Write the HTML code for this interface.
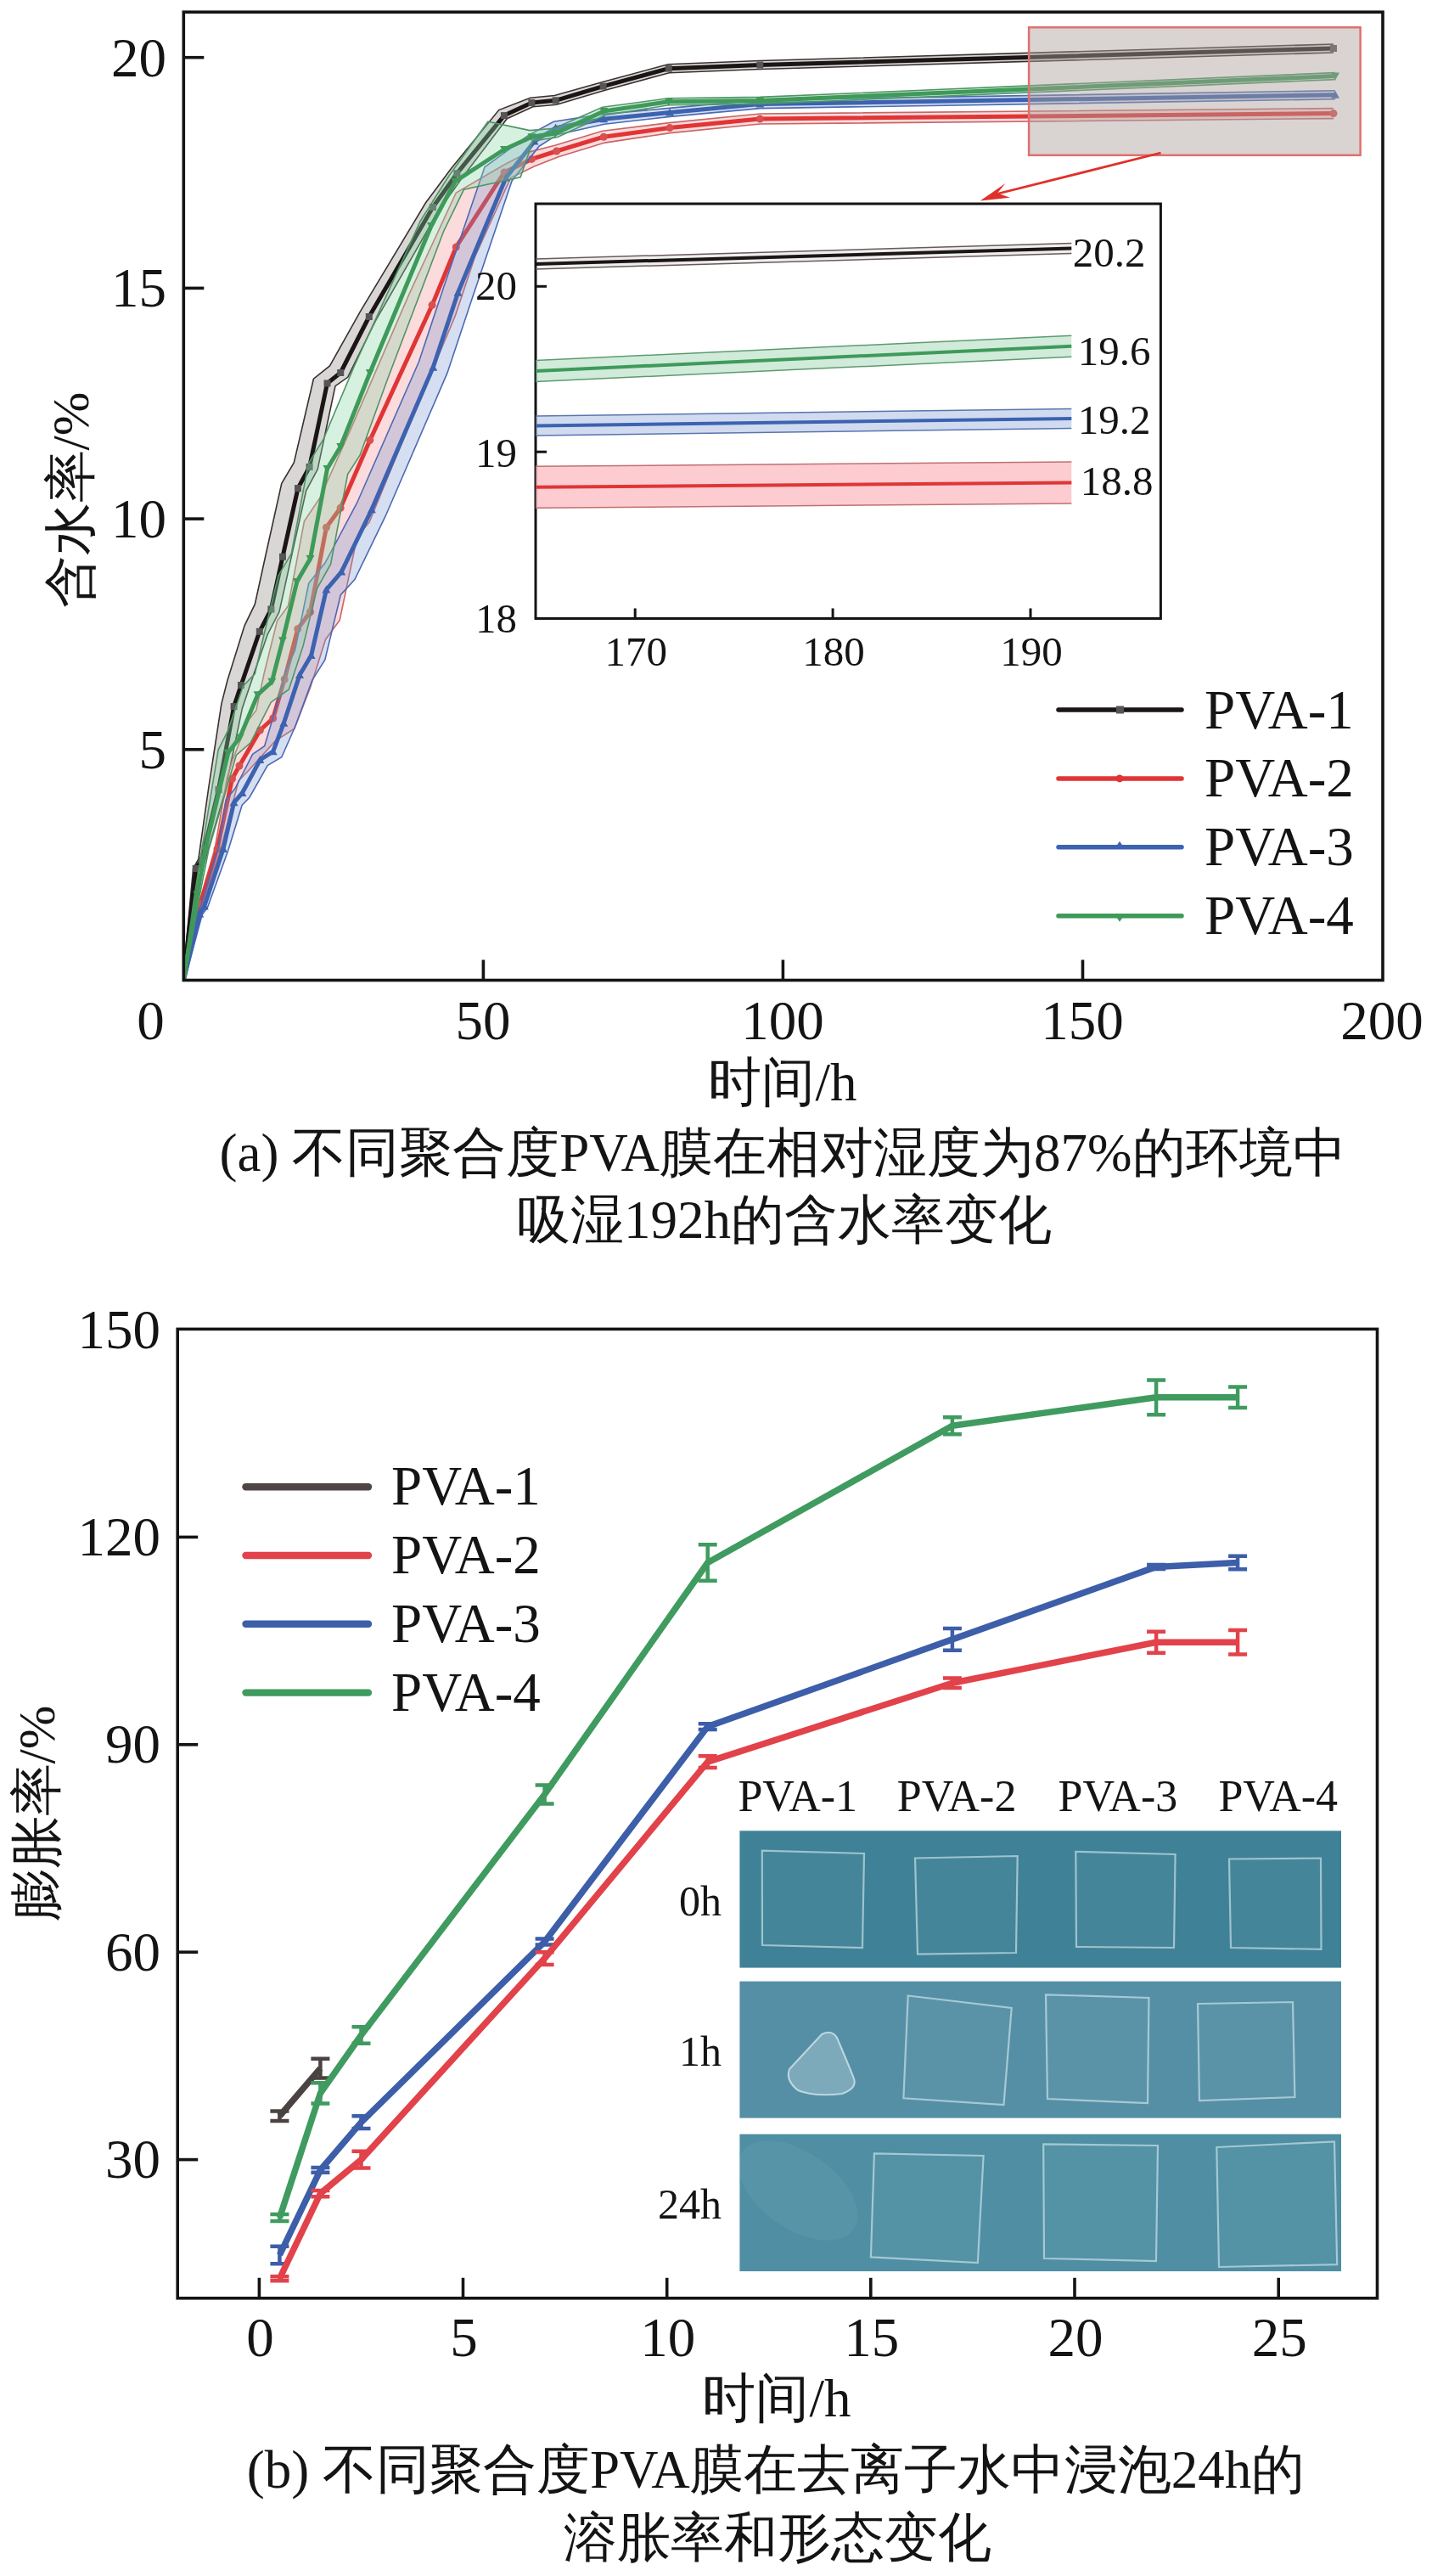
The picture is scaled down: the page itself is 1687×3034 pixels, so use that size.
<!DOCTYPE html><html><head><meta charset="utf-8"><style>html,body{margin:0;padding:0;background:#fff;overflow:hidden}svg{display:block}</style></head><body><svg width="1687" height="3034" viewBox="0 0 1687 3034" font-family="'Liberation Serif', serif">
<rect width="1687" height="3034" fill="#fff"/>
<defs><clipPath id="c1"><rect x="216.3" y="14.2" width="1412.7" height="1140.3"/></clipPath></defs>
<g clip-path="url(#c1)">
<polygon points="215.3,1154.4 227.7,1022.6 233.8,1011.9 245.8,927.5 260.9,828.9 267.9,801.5 288.1,736.8 300.3,711.7 313.5,651.5 331.8,569.4 346.3,544.9 369.4,446.2 388.5,431.0 424.3,367.2 501.5,238.8 531.3,198.7 587.7,129.6 624.7,115.2 653.3,112.5 709.2,96.8 787.1,75.7 895.1,71.5 1570.9,52.0 1571.1,62.0 895.5,81.5 788.5,85.7 712.0,106.4 655.7,123.2 627.8,125.8 597.3,139.7 544.7,209.1 516.8,248.2 442.7,377.4 409.7,444.3 395.0,454.6 374.2,552.7 360.6,578.0 342.8,658.0 329.0,720.6 315.1,747.5 293.5,810.2 285.4,834.2 265.3,931.6 241.4,1014.1 233.7,1023.4 217.3,1154.6" fill="rgba(120,110,105,0.28)" stroke="none"/>
<polyline points="215.3,1154.4 227.7,1022.6 233.8,1011.9 245.8,927.5 260.9,828.9 267.9,801.5 288.1,736.8 300.3,711.7 313.5,651.5 331.8,569.4 346.3,544.9 369.4,446.2 388.5,431.0 424.3,367.2 501.5,238.8 531.3,198.7 587.7,129.6 624.7,115.2 653.3,112.5 709.2,96.8 787.1,75.7 895.1,71.5 1570.9,52.0" fill="none" stroke="#3a3030" stroke-width="1.6"/>
<polyline points="217.3,1154.6 233.7,1023.4 241.4,1014.1 265.3,931.6 285.4,834.2 293.5,810.2 315.1,747.5 329.0,720.6 342.8,658.0 360.6,578.0 374.2,552.7 395.0,454.6 409.7,444.3 442.7,377.4 516.8,248.2 544.7,209.1 597.3,139.7 627.8,125.8 655.7,123.2 712.0,106.4 788.5,85.7 895.5,81.5 1571.1,62.0" fill="none" stroke="#3a3030" stroke-width="1.6"/>
<polyline points="216.3,1154.5 230.7,1023.0 237.6,1013.0 257.5,930.0 275.6,832.1 284.0,807.0 305.8,743.8 319.4,717.6 333.0,655.8 351.0,575.1 364.6,550.0 385.5,451.5 401.2,439.0 434.8,373.0 510.0,244.0 538.4,204.2 593.9,136.1 626.4,121.0 654.6,118.3 710.6,101.6 787.8,80.7 895.3,76.5 1571.0,57.0" fill="none" stroke="#1b1515" stroke-width="5" stroke-linejoin="round"/>
<rect x="226.7" y="1019.0" width="8" height="8" fill="#555"/>
<rect x="233.6" y="1009.0" width="8" height="8" fill="#555"/>
<rect x="253.5" y="926.0" width="8" height="8" fill="#555"/>
<rect x="271.6" y="828.1" width="8" height="8" fill="#555"/>
<rect x="280.0" y="803.0" width="8" height="8" fill="#555"/>
<rect x="301.8" y="739.8" width="8" height="8" fill="#555"/>
<rect x="315.4" y="713.6" width="8" height="8" fill="#555"/>
<rect x="329.0" y="651.8" width="8" height="8" fill="#555"/>
<rect x="347.0" y="571.1" width="8" height="8" fill="#555"/>
<rect x="360.6" y="546.0" width="8" height="8" fill="#555"/>
<rect x="381.5" y="447.5" width="8" height="8" fill="#555"/>
<rect x="397.2" y="435.0" width="8" height="8" fill="#555"/>
<rect x="430.8" y="369.0" width="8" height="8" fill="#555"/>
<rect x="506.0" y="240.0" width="8" height="8" fill="#555"/>
<rect x="534.4" y="200.2" width="8" height="8" fill="#555"/>
<rect x="589.9" y="132.1" width="8" height="8" fill="#555"/>
<rect x="622.4" y="117.0" width="8" height="8" fill="#555"/>
<rect x="650.6" y="114.3" width="8" height="8" fill="#555"/>
<rect x="706.6" y="97.6" width="8" height="8" fill="#555"/>
<rect x="783.8" y="76.7" width="8" height="8" fill="#555"/>
<rect x="891.3" y="72.5" width="8" height="8" fill="#555"/>
<rect x="1567.0" y="53.0" width="8" height="8" fill="#555"/>
<polygon points="215.3,1154.3 234.1,1064.5 253.1,999.3 267.7,915.8 273.3,897.0 291.7,849.6 301.9,836.5 311.1,793.3 326.5,731.4 339.5,713.5 358.5,613.7 377.0,586.1 412.1,507.9 481.7,347.1 537.3,227.0 594.0,194.0 623.0,179.1 653.6,171.3 709.8,154.3 788.3,144.6 895.2,134.0 1570.9,127.6 1571.1,139.6 895.4,146.0 789.7,156.6 712.6,168.1 657.8,184.7 629.8,195.7 601.6,209.5 559.3,302.9 536.5,371.5 468.6,533.4 435.1,615.2 420.9,631.8 400.2,730.5 383.5,753.2 366.0,808.5 346.9,858.1 324.3,872.7 292.4,908.0 281.2,919.4 259.9,1001.0 237.9,1065.5 217.3,1154.7" fill="rgba(245,150,155,0.34)" stroke="none"/>
<polyline points="215.3,1154.3 234.1,1064.5 253.1,999.3 267.7,915.8 273.3,897.0 291.7,849.6 301.9,836.5 311.1,793.3 326.5,731.4 339.5,713.5 358.5,613.7 377.0,586.1 412.1,507.9 481.7,347.1 537.3,227.0 594.0,194.0 623.0,179.1 653.6,171.3 709.8,154.3 788.3,144.6 895.2,134.0 1570.9,127.6" fill="none" stroke="#c86565" stroke-width="1.6"/>
<polyline points="217.3,1154.7 237.9,1065.5 259.9,1001.0 281.2,919.4 292.4,908.0 324.3,872.7 346.9,858.1 366.0,808.5 383.5,753.2 400.2,730.5 420.9,631.8 435.1,615.2 468.6,533.4 536.5,371.5 559.3,302.9 601.6,209.5 629.8,195.7 657.8,184.7 712.6,168.1 789.7,156.6 895.4,146.0 1571.1,139.6" fill="none" stroke="#c86565" stroke-width="1.6"/>
<polyline points="216.3,1154.5 236.0,1065.0 256.0,1000.0 273.5,917.3 282.0,902.0 306.4,860.0 321.7,846.0 335.2,800.0 350.8,740.7 365.5,720.8 384.4,621.2 401.1,598.2 435.8,518.6 509.1,359.3 537.3,291.0 594.0,203.0 626.4,187.4 655.7,178.0 711.2,161.2 789.0,150.6 895.3,140.0 1571.0,133.6" fill="none" stroke="#e03535" stroke-width="5" stroke-linejoin="round"/>
<circle cx="236.0" cy="1065.0" r="4.5" fill="#d85050"/>
<circle cx="256.0" cy="1000.0" r="4.5" fill="#d85050"/>
<circle cx="273.5" cy="917.3" r="4.5" fill="#d85050"/>
<circle cx="282.0" cy="902.0" r="4.5" fill="#d85050"/>
<circle cx="306.4" cy="860.0" r="4.5" fill="#d85050"/>
<circle cx="321.7" cy="846.0" r="4.5" fill="#d85050"/>
<circle cx="335.2" cy="800.0" r="4.5" fill="#d85050"/>
<circle cx="350.8" cy="740.7" r="4.5" fill="#d85050"/>
<circle cx="365.5" cy="720.8" r="4.5" fill="#d85050"/>
<circle cx="384.4" cy="621.2" r="4.5" fill="#d85050"/>
<circle cx="401.1" cy="598.2" r="4.5" fill="#d85050"/>
<circle cx="435.8" cy="518.6" r="4.5" fill="#d85050"/>
<circle cx="509.1" cy="359.3" r="4.5" fill="#d85050"/>
<circle cx="537.3" cy="291.0" r="4.5" fill="#d85050"/>
<circle cx="594.0" cy="203.0" r="4.5" fill="#d85050"/>
<circle cx="626.4" cy="187.4" r="4.5" fill="#d85050"/>
<circle cx="655.7" cy="178.0" r="4.5" fill="#d85050"/>
<circle cx="711.2" cy="161.2" r="4.5" fill="#d85050"/>
<circle cx="789.0" cy="150.6" r="4.5" fill="#d85050"/>
<circle cx="895.3" cy="140.0" r="4.5" fill="#d85050"/>
<circle cx="1571.0" cy="133.6" r="4.5" fill="#d85050"/>
<polygon points="215.3,1154.3 232.4,1075.8 236.9,1066.0 257.2,998.4 266.1,942.1 276.9,928.8 297.6,888.4 311.6,878.7 321.1,847.1 337.2,788.7 347.5,766.1 363.7,687.1 383.1,662.8 420.5,592.5 493.5,426.0 522.7,338.2 571.0,196.8 622.4,159.4 652.2,143.2 710.4,134.4 788.5,127.4 895.2,117.6 1572.9,106.8 1573.1,116.8 895.4,127.6 789.5,137.4 712.0,146.2 657.0,158.4 635.2,172.2 603.1,213.0 556.3,351.2 526.9,439.4 454.2,607.7 417.9,682.5 401.3,700.7 382.8,777.2 367.8,801.1 347.5,856.3 331.8,891.7 315.2,901.6 293.9,939.2 285.1,948.5 268.8,1001.6 244.5,1068.8 238.2,1077.4 217.3,1154.7" fill="rgba(120,150,210,0.3)" stroke="none"/>
<polyline points="215.3,1154.3 232.4,1075.8 236.9,1066.0 257.2,998.4 266.1,942.1 276.9,928.8 297.6,888.4 311.6,878.7 321.1,847.1 337.2,788.7 347.5,766.1 363.7,687.1 383.1,662.8 420.5,592.5 493.5,426.0 522.7,338.2 571.0,196.8 622.4,159.4 652.2,143.2 710.4,134.4 788.5,127.4 895.2,117.6 1572.9,106.8" fill="none" stroke="#4a6ab5" stroke-width="1.6"/>
<polyline points="217.3,1154.7 238.2,1077.4 244.5,1068.8 268.8,1001.6 285.1,948.5 293.9,939.2 315.2,901.6 331.8,891.7 347.5,856.3 367.8,801.1 382.8,777.2 401.3,700.7 417.9,682.5 454.2,607.7 526.9,439.4 556.3,351.2 603.1,213.0 635.2,172.2 657.0,158.4 712.0,146.2 789.5,137.4 895.4,127.6 1573.1,116.8" fill="none" stroke="#4a6ab5" stroke-width="1.6"/>
<polyline points="216.3,1154.5 235.3,1076.6 240.7,1067.4 263.0,1000.0 275.6,945.3 285.4,934.0 306.4,895.0 321.7,885.2 334.3,851.7 353.0,795.1 366.6,772.1 384.4,694.6 402.2,673.6 437.8,600.3 510.2,432.7 539.5,344.7 596.0,209.4 629.5,166.5 654.6,150.8 711.2,140.3 789.0,132.4 895.3,122.6 1573.0,111.8" fill="none" stroke="#3c62b0" stroke-width="5" stroke-linejoin="round"/>
<path d="M235.3,1071.6 L240.3,1080.6 L230.3,1080.6Z" fill="#3c62b0"/>
<path d="M240.7,1062.4 L245.7,1071.4 L235.7,1071.4Z" fill="#3c62b0"/>
<path d="M263.0,995.0 L268.0,1004.0 L258.0,1004.0Z" fill="#3c62b0"/>
<path d="M275.6,940.3 L280.6,949.3 L270.6,949.3Z" fill="#3c62b0"/>
<path d="M285.4,929.0 L290.4,938.0 L280.4,938.0Z" fill="#3c62b0"/>
<path d="M306.4,890.0 L311.4,899.0 L301.4,899.0Z" fill="#3c62b0"/>
<path d="M321.7,880.2 L326.7,889.2 L316.7,889.2Z" fill="#3c62b0"/>
<path d="M334.3,846.7 L339.3,855.7 L329.3,855.7Z" fill="#3c62b0"/>
<path d="M353.0,790.1 L358.0,799.1 L348.0,799.1Z" fill="#3c62b0"/>
<path d="M366.6,767.1 L371.6,776.1 L361.6,776.1Z" fill="#3c62b0"/>
<path d="M384.4,689.6 L389.4,698.6 L379.4,698.6Z" fill="#3c62b0"/>
<path d="M402.2,668.6 L407.2,677.6 L397.2,677.6Z" fill="#3c62b0"/>
<path d="M437.8,595.3 L442.8,604.3 L432.8,604.3Z" fill="#3c62b0"/>
<path d="M510.2,427.7 L515.2,436.7 L505.2,436.7Z" fill="#3c62b0"/>
<path d="M539.5,339.7 L544.5,348.7 L534.5,348.7Z" fill="#3c62b0"/>
<path d="M596.0,204.4 L601.0,213.4 L591.0,213.4Z" fill="#3c62b0"/>
<path d="M629.5,161.5 L634.5,170.5 L624.5,170.5Z" fill="#3c62b0"/>
<path d="M654.6,145.8 L659.6,154.8 L649.6,154.8Z" fill="#3c62b0"/>
<path d="M711.2,135.3 L716.2,144.3 L706.2,144.3Z" fill="#3c62b0"/>
<path d="M789.0,127.4 L794.0,136.4 L784.0,136.4Z" fill="#3c62b0"/>
<path d="M895.3,117.6 L900.3,126.6 L890.3,126.6Z" fill="#3c62b0"/>
<path d="M1573.0,106.8 L1578.0,115.8 L1568.0,115.8Z" fill="#3c62b0"/>
<polygon points="215.3,1154.3 229.3,1053.0 238.1,999.1 257.2,883.1 268.3,861.1 286.3,808.2 300.3,793.6 310.7,748.7 328.0,677.8 343.3,651.9 363.3,546.0 381.1,517.1 417.3,431.4 495.2,260.3 529.1,206.7 574.9,143.2 624.0,153.6 652.6,151.3 709.9,126.2 787.5,115.8 895.1,114.4 1572.8,85.6 1573.2,93.6 895.5,122.4 788.1,123.8 712.5,135.8 656.3,161.7 627.9,166.0 613.1,208.8 546.4,223.3 522.6,272.5 456.2,447.4 424.0,536.2 409.6,558.5 389.6,664.4 373.5,693.1 357.2,760.4 340.3,812.0 319.2,827.2 295.1,874.8 278.3,889.5 245.9,1000.9 235.3,1054.0 217.3,1154.7" fill="rgba(140,215,170,0.35)" stroke="none"/>
<polyline points="215.3,1154.3 229.3,1053.0 238.1,999.1 257.2,883.1 268.3,861.1 286.3,808.2 300.3,793.6 310.7,748.7 328.0,677.8 343.3,651.9 363.3,546.0 381.1,517.1 417.3,431.4 495.2,260.3 529.1,206.7 574.9,143.2 624.0,153.6 652.6,151.3 709.9,126.2 787.5,115.8 895.1,114.4 1572.8,85.6" fill="none" stroke="#4f9565" stroke-width="1.6"/>
<polyline points="217.3,1154.7 235.3,1054.0 245.9,1000.9 278.3,889.5 295.1,874.8 319.2,827.2 340.3,812.0 357.2,760.4 373.5,693.1 389.6,664.4 409.6,558.5 424.0,536.2 456.2,447.4 522.6,272.5 546.4,223.3 613.1,208.8 627.9,166.0 656.3,161.7 712.5,135.8 788.1,123.8 895.5,122.4 1573.2,93.6" fill="none" stroke="#4f9565" stroke-width="1.6"/>
<polyline points="216.3,1154.5 232.3,1053.5 242.0,1000.0 268.7,886.6 282.6,868.4 303.6,818.2 320.3,802.8 333.0,754.3 349.8,685.1 365.5,657.9 385.5,552.0 401.2,526.0 435.8,439.0 508.0,266.0 536.3,213.6 594.0,176.0 626.4,161.2 654.6,157.0 711.2,131.0 787.8,119.8 895.3,118.4 1573.0,89.6" fill="none" stroke="#3f9a5a" stroke-width="5" stroke-linejoin="round"/>
<path d="M227.3,1049.5 L237.3,1049.5 L232.3,1058.5Z" fill="#3f9a5a"/>
<path d="M237.0,996.0 L247.0,996.0 L242.0,1005.0Z" fill="#3f9a5a"/>
<path d="M263.7,882.6 L273.7,882.6 L268.7,891.6Z" fill="#3f9a5a"/>
<path d="M277.6,864.4 L287.6,864.4 L282.6,873.4Z" fill="#3f9a5a"/>
<path d="M298.6,814.2 L308.6,814.2 L303.6,823.2Z" fill="#3f9a5a"/>
<path d="M315.3,798.8 L325.3,798.8 L320.3,807.8Z" fill="#3f9a5a"/>
<path d="M328.0,750.3 L338.0,750.3 L333.0,759.3Z" fill="#3f9a5a"/>
<path d="M344.8,681.1 L354.8,681.1 L349.8,690.1Z" fill="#3f9a5a"/>
<path d="M360.5,653.9 L370.5,653.9 L365.5,662.9Z" fill="#3f9a5a"/>
<path d="M380.5,548.0 L390.5,548.0 L385.5,557.0Z" fill="#3f9a5a"/>
<path d="M396.2,522.0 L406.2,522.0 L401.2,531.0Z" fill="#3f9a5a"/>
<path d="M430.8,435.0 L440.8,435.0 L435.8,444.0Z" fill="#3f9a5a"/>
<path d="M503.0,262.0 L513.0,262.0 L508.0,271.0Z" fill="#3f9a5a"/>
<path d="M531.3,209.6 L541.3,209.6 L536.3,218.6Z" fill="#3f9a5a"/>
<path d="M589.0,172.0 L599.0,172.0 L594.0,181.0Z" fill="#3f9a5a"/>
<path d="M621.4,157.2 L631.4,157.2 L626.4,166.2Z" fill="#3f9a5a"/>
<path d="M649.6,153.0 L659.6,153.0 L654.6,162.0Z" fill="#3f9a5a"/>
<path d="M706.2,127.0 L716.2,127.0 L711.2,136.0Z" fill="#3f9a5a"/>
<path d="M782.8,115.8 L792.8,115.8 L787.8,124.8Z" fill="#3f9a5a"/>
<path d="M890.3,114.4 L900.3,114.4 L895.3,123.4Z" fill="#3f9a5a"/>
<path d="M1568.0,85.6 L1578.0,85.6 L1573.0,94.6Z" fill="#3f9a5a"/>
</g>
<rect x="1212.1" y="32.2" width="390.5" height="150.6" fill="rgba(170,160,155,0.45)" stroke="#e07070" stroke-width="2.5"/>
<line x1="1367.6" y1="180" x2="1172" y2="229" stroke="#e0302a" stroke-width="2.8"/>
<path d="M1154.8,236.5 L1184.4,216.1 L1175,227.5 L1190,232.8 Z" fill="#e0302a"/>
<rect x="216.3" y="14.2" width="1412.7" height="1140.3" fill="none" stroke="#141414" stroke-width="3.6"/>
<line x1="216.3" y1="882.8" x2="240.3" y2="882.8" stroke="#141414" stroke-width="3.6"/>
<text x="196" y="904.8" font-size="65" text-anchor="end" fill="#141414">5</text>
<line x1="216.3" y1="611.1" x2="240.3" y2="611.1" stroke="#141414" stroke-width="3.6"/>
<text x="196" y="633.1" font-size="65" text-anchor="end" fill="#141414">10</text>
<line x1="216.3" y1="339.4" x2="240.3" y2="339.4" stroke="#141414" stroke-width="3.6"/>
<text x="196" y="361.4" font-size="65" text-anchor="end" fill="#141414">15</text>
<line x1="216.3" y1="67.7" x2="240.3" y2="67.7" stroke="#141414" stroke-width="3.6"/>
<text x="196" y="89.7" font-size="65" text-anchor="end" fill="#141414">20</text>
<line x1="569.4" y1="1154.5" x2="569.4" y2="1130.5" stroke="#141414" stroke-width="3.6"/>
<line x1="922.4" y1="1154.5" x2="922.4" y2="1130.5" stroke="#141414" stroke-width="3.6"/>
<line x1="1275.5" y1="1154.5" x2="1275.5" y2="1130.5" stroke="#141414" stroke-width="3.6"/>
<text x="177.5" y="1223.5" font-size="65" text-anchor="middle" fill="#141414">0</text>
<text x="569" y="1223.5" font-size="65" text-anchor="middle" fill="#141414">50</text>
<text x="922" y="1223.5" font-size="65" text-anchor="middle" fill="#141414">100</text>
<text x="1275" y="1223.5" font-size="65" text-anchor="middle" fill="#141414">150</text>
<text x="1628" y="1223.5" font-size="65" text-anchor="middle" fill="#141414">200</text>
<text x="922" y="1296" font-size="63" text-anchor="middle" fill="#141414">时间/h</text>
<text transform="translate(104,589) rotate(-90)" x="0" y="0" font-size="62" text-anchor="middle" fill="#141414">含水率/%</text>
<line x1="1247" y1="836.0" x2="1392" y2="836.0" stroke="#1b1515" stroke-width="5.5" stroke-linecap="round"/>
<text x="1419" y="857.5" font-size="65" fill="#141414">PVA-1</text>
<line x1="1247" y1="916.9" x2="1392" y2="916.9" stroke="#e03535" stroke-width="5.5" stroke-linecap="round"/>
<circle cx="1319" cy="916.9" r="4.5" fill="#e03535"/>
<text x="1419" y="938.4" font-size="65" fill="#141414">PVA-2</text>
<line x1="1247" y1="997.8" x2="1392" y2="997.8" stroke="#3c62b0" stroke-width="5.5" stroke-linecap="round"/>
<path d="M1319,990.8 L1325,999.8 L1313,999.8Z" fill="#3c62b0"/>
<text x="1419" y="1019.3" font-size="65" fill="#141414">PVA-3</text>
<line x1="1247" y1="1078.7" x2="1392" y2="1078.7" stroke="#3f9a5a" stroke-width="5.5" stroke-linecap="round"/>
<path d="M1313,1076.7 L1325,1076.7 L1319,1085.7Z" fill="#3f9a5a"/>
<text x="1419" y="1100.2" font-size="65" fill="#141414">PVA-4</text>
<rect x="1315" y="831.5" width="9" height="9" fill="#555"/>
<rect x="631" y="240" width="736.4000000000001" height="488.5" fill="#fff" stroke="#141414" stroke-width="3"/>
<polygon points="631,305 1262.3,286.5 1262.3,298.5 631,317" fill="rgba(150,140,140,0.15)"/>
<line x1="631" y1="305" x2="1262.3" y2="286.5" stroke="#6a5a5a" stroke-width="1.5"/>
<line x1="631" y1="317" x2="1262.3" y2="298.5" stroke="#6a5a5a" stroke-width="1.5"/>
<line x1="631" y1="311" x2="1262.3" y2="292.5" stroke="#1b1515" stroke-width="4"/>
<polygon points="631,424.5 1262.3,395.3 1262.3,420.3 631,449.5" fill="rgba(150,210,170,0.45)"/>
<line x1="631" y1="424.5" x2="1262.3" y2="395.3" stroke="#5e9a70" stroke-width="1.5"/>
<line x1="631" y1="449.5" x2="1262.3" y2="420.3" stroke="#5e9a70" stroke-width="1.5"/>
<line x1="631" y1="437" x2="1262.3" y2="407.8" stroke="#3f9a5a" stroke-width="4"/>
<polygon points="631,490.0 1262.3,481.5 1262.3,504.5 631,513.0" fill="rgba(150,175,220,0.45)"/>
<line x1="631" y1="490.0" x2="1262.3" y2="481.5" stroke="#5a74b0" stroke-width="1.5"/>
<line x1="631" y1="513.0" x2="1262.3" y2="504.5" stroke="#5a74b0" stroke-width="1.5"/>
<line x1="631" y1="501.5" x2="1262.3" y2="493" stroke="#3c62b0" stroke-width="4"/>
<polygon points="631,549.3 1262.3,544.0 1262.3,593.0 631,598.3" fill="rgba(250,170,178,0.6)"/>
<line x1="631" y1="549.3" x2="1262.3" y2="544.0" stroke="#c07070" stroke-width="1.5"/>
<line x1="631" y1="598.3" x2="1262.3" y2="593.0" stroke="#c07070" stroke-width="1.5"/>
<line x1="631" y1="573.8" x2="1262.3" y2="568.5" stroke="#e03535" stroke-width="4"/>
<line x1="631" y1="337.3" x2="644" y2="337.3" stroke="#141414" stroke-width="3"/>
<line x1="631" y1="532.2" x2="644" y2="532.2" stroke="#141414" stroke-width="3"/>
<text x="609" y="353.4" font-size="49" text-anchor="end" fill="#141414">20</text>
<text x="609" y="550.4" font-size="49" text-anchor="end" fill="#141414">19</text>
<text x="609" y="745.4" font-size="49" text-anchor="end" fill="#141414">18</text>
<line x1="748.2" y1="728.5" x2="748.2" y2="716.5" stroke="#141414" stroke-width="3"/>
<text x="749.2" y="783.5" font-size="49" text-anchor="middle" fill="#141414">170</text>
<line x1="981.1" y1="728.5" x2="981.1" y2="716.5" stroke="#141414" stroke-width="3"/>
<text x="982.1" y="783.5" font-size="49" text-anchor="middle" fill="#141414">180</text>
<line x1="1214.0" y1="728.5" x2="1214.0" y2="716.5" stroke="#141414" stroke-width="3"/>
<text x="1215.0" y="783.5" font-size="49" text-anchor="middle" fill="#141414">190</text>
<text x="1263.8" y="313.5" font-size="49" fill="#141414">20.2</text>
<text x="1269.8" y="429.7" font-size="49" fill="#141414">19.6</text>
<text x="1269.8" y="510.8" font-size="49" fill="#141414">19.2</text>
<text x="1272.8" y="582.6" font-size="49" fill="#141414">18.8</text>
<text x="922" y="1379" font-size="63" text-anchor="middle" fill="#141414">(a) 不同聚合度PVA膜在相对湿度为87%的环境中</text>
<text x="924" y="1458" font-size="63" text-anchor="middle" fill="#141414">吸湿192h的含水率变化</text>
<rect x="209.2" y="1565.4" width="1413.3" height="1141.4" fill="none" stroke="#141414" stroke-width="3.6"/>
<line x1="209.2" y1="2543.6" x2="233.2" y2="2543.6" stroke="#141414" stroke-width="3.6"/>
<line x1="209.2" y1="2299.2" x2="233.2" y2="2299.2" stroke="#141414" stroke-width="3.6"/>
<line x1="209.2" y1="2054.8" x2="233.2" y2="2054.8" stroke="#141414" stroke-width="3.6"/>
<line x1="209.2" y1="1810.4" x2="233.2" y2="1810.4" stroke="#141414" stroke-width="3.6"/>
<text x="189" y="2565.1" font-size="65" text-anchor="end" fill="#141414">30</text>
<text x="189" y="2320.7" font-size="65" text-anchor="end" fill="#141414">60</text>
<text x="189" y="2076.3" font-size="65" text-anchor="end" fill="#141414">90</text>
<text x="189" y="1831.9" font-size="65" text-anchor="end" fill="#141414">120</text>
<text x="189" y="1587.5" font-size="65" text-anchor="end" fill="#141414">150</text>
<line x1="305.4" y1="2706.8" x2="305.4" y2="2682.8" stroke="#141414" stroke-width="3.6"/>
<text x="306.4" y="2775" font-size="65" text-anchor="middle" fill="#141414">0</text>
<line x1="545.5" y1="2706.8" x2="545.5" y2="2682.8" stroke="#141414" stroke-width="3.6"/>
<text x="546.5" y="2775" font-size="65" text-anchor="middle" fill="#141414">5</text>
<line x1="785.7" y1="2706.8" x2="785.7" y2="2682.8" stroke="#141414" stroke-width="3.6"/>
<text x="786.7" y="2775" font-size="65" text-anchor="middle" fill="#141414">10</text>
<line x1="1025.8" y1="2706.8" x2="1025.8" y2="2682.8" stroke="#141414" stroke-width="3.6"/>
<text x="1026.8" y="2775" font-size="65" text-anchor="middle" fill="#141414">15</text>
<line x1="1266.0" y1="2706.8" x2="1266.0" y2="2682.8" stroke="#141414" stroke-width="3.6"/>
<text x="1267.0" y="2775" font-size="65" text-anchor="middle" fill="#141414">20</text>
<line x1="1506.2" y1="2706.8" x2="1506.2" y2="2682.8" stroke="#141414" stroke-width="3.6"/>
<text x="1507.2" y="2775" font-size="65" text-anchor="middle" fill="#141414">25</text>
<text x="915" y="2846" font-size="63" text-anchor="middle" fill="#141414">时间/h</text>
<text transform="translate(64,2136) rotate(-90)" x="0" y="0" font-size="62" text-anchor="middle" fill="#141414">膨胀率/%</text>
<rect x="871.4" y="2156.3" width="708.6" height="161.3" fill="#3f8196"/>
<rect x="871.4" y="2333.6" width="708.6" height="161.0" fill="#558fa5"/>
<rect x="871.4" y="2513.6" width="708.6" height="161.5" fill="#4f8ea3"/>
<ellipse cx="940" cy="2580" rx="80" ry="45" fill="rgba(200,230,235,0.07)" transform="rotate(35 940 2580)"/>
<polygon points="897.8,2179.7 1018.0,2183.0 1016.0,2294.0 898.0,2291.0" fill="rgba(235,245,248,0.04)" stroke="rgba(215,235,240,0.62)" stroke-width="2.2"/>
<polygon points="1078.0,2188.5 1198.7,2186.0 1197.0,2300.0 1081.0,2301.7" fill="rgba(235,245,248,0.04)" stroke="rgba(215,235,240,0.62)" stroke-width="2.2"/>
<polygon points="1267.3,2180.9 1384.6,2184.0 1383.0,2294.0 1268.0,2293.0" fill="rgba(235,245,248,0.04)" stroke="rgba(215,235,240,0.62)" stroke-width="2.2"/>
<polygon points="1448.0,2189.5 1556.0,2188.5 1556.5,2295.8 1450.0,2294.0" fill="rgba(235,245,248,0.04)" stroke="rgba(215,235,240,0.62)" stroke-width="2.2"/>
<polygon points="1069.7,2350.5 1191.7,2365.0 1182.5,2479.2 1064.4,2471.3" fill="rgba(235,245,248,0.04)" stroke="rgba(215,235,240,0.62)" stroke-width="2.2"/>
<polygon points="1232.0,2349.3 1353.5,2353.0 1352.0,2477.2 1234.0,2472.0" fill="rgba(235,245,248,0.04)" stroke="rgba(215,235,240,0.62)" stroke-width="2.2"/>
<polygon points="1411.0,2360.0 1523.0,2358.0 1525.4,2470.0 1413.0,2474.0" fill="rgba(235,245,248,0.04)" stroke="rgba(215,235,240,0.62)" stroke-width="2.2"/>
<polygon points="1029.9,2536.3 1158.6,2539.0 1151.9,2665.0 1025.9,2658.4" fill="rgba(235,245,248,0.04)" stroke="rgba(215,235,240,0.62)" stroke-width="2.2"/>
<polygon points="1229.2,2525.3 1364.0,2527.0 1362.0,2663.0 1230.0,2660.0" fill="rgba(235,245,248,0.04)" stroke="rgba(215,235,240,0.62)" stroke-width="2.2"/>
<polygon points="1433.3,2529.0 1572.0,2522.3 1575.2,2667.2 1436.0,2670.0" fill="rgba(235,245,248,0.04)" stroke="rgba(215,235,240,0.62)" stroke-width="2.2"/>
<path d="M930,2437 Q955,2410 968,2396 Q980,2390 986,2400 Q998,2428 1006,2448 Q1010,2460 992,2466 Q960,2470 940,2462 Q925,2450 930,2437Z" fill="rgba(215,235,240,0.3)" stroke="rgba(225,240,245,0.7)" stroke-width="2"/>
<text x="869.4" y="2133" font-size="52" fill="#141414">PVA-1</text>
<text x="1056.8" y="2133" font-size="52" fill="#141414">PVA-2</text>
<text x="1246.6" y="2133" font-size="52" fill="#141414">PVA-3</text>
<text x="1435.4" y="2133" font-size="52" fill="#141414">PVA-4</text>
<text x="850" y="2256" font-size="50" text-anchor="end" fill="#141414">0h</text>
<text x="850" y="2432.6" font-size="50" text-anchor="end" fill="#141414">1h</text>
<text x="850" y="2613" font-size="50" text-anchor="end" fill="#141414">24h</text>
<polyline points="329.4,2492.3 377.4,2436.1" fill="none" stroke="#4b4242" stroke-width="7.5" stroke-linejoin="round"/>
<path d="M329.4,2486.6 V2498.0 M318.4,2486.6 H340.4 M318.4,2498.0 H340.4" stroke="#4b4242" stroke-width="4.5" fill="none"/>
<path d="M377.4,2424.7 V2447.5 M366.4,2424.7 H388.4 M366.4,2447.5 H388.4" stroke="#4b4242" stroke-width="4.5" fill="none"/>
<polyline points="329.4,2612.0 377.4,2465.4 425.5,2397.0 641.6,2113.4 833.7,1840.5 1121.9,1679.2 1362.1,1645.8 1458.1,1645.8" fill="none" stroke="#3f9b5f" stroke-width="7.5" stroke-linejoin="round"/>
<path d="M329.4,2608.0 V2616.1 M318.4,2608.0 H340.4 M318.4,2616.1 H340.4" stroke="#3f9b5f" stroke-width="4.5" fill="none"/>
<path d="M377.4,2453.2 V2477.6 M366.4,2453.2 H388.4 M366.4,2477.6 H388.4" stroke="#3f9b5f" stroke-width="4.5" fill="none"/>
<path d="M425.5,2387.2 V2406.7 M414.5,2387.2 H436.5 M414.5,2406.7 H436.5" stroke="#3f9b5f" stroke-width="4.5" fill="none"/>
<path d="M641.6,2102.4 V2124.4 M630.6,2102.4 H652.6 M630.6,2124.4 H652.6" stroke="#3f9b5f" stroke-width="4.5" fill="none"/>
<path d="M833.7,1819.3 V1861.7 M822.7,1819.3 H844.7 M822.7,1861.7 H844.7" stroke="#3f9b5f" stroke-width="4.5" fill="none"/>
<path d="M1121.9,1669.2 V1689.2 M1110.9,1669.2 H1132.9 M1110.9,1689.2 H1132.9" stroke="#3f9b5f" stroke-width="4.5" fill="none"/>
<path d="M1362.1,1625.4 V1666.2 M1351.1,1625.4 H1373.1 M1351.1,1666.2 H1373.1" stroke="#3f9b5f" stroke-width="4.5" fill="none"/>
<path d="M1458.1,1633.6 V1658.0 M1447.1,1633.6 H1469.1 M1447.1,1658.0 H1469.1" stroke="#3f9b5f" stroke-width="4.5" fill="none"/>
<polyline points="329.4,2656.0 377.4,2555.8 425.5,2499.6 641.6,2287.0 833.7,2033.6 1121.9,1930.9 1362.1,1845.4 1458.1,1840.5" fill="none" stroke="#3d5ea8" stroke-width="7.5" stroke-linejoin="round"/>
<path d="M329.4,2645.8 V2666.3 M318.4,2645.8 H340.4 M318.4,2666.3 H340.4" stroke="#3d5ea8" stroke-width="4.5" fill="none"/>
<path d="M377.4,2552.9 V2558.8 M366.4,2552.9 H388.4 M366.4,2558.8 H388.4" stroke="#3d5ea8" stroke-width="4.5" fill="none"/>
<path d="M425.5,2492.3 V2506.9 M414.5,2492.3 H436.5 M414.5,2506.9 H436.5" stroke="#3d5ea8" stroke-width="4.5" fill="none"/>
<path d="M641.6,2283.5 V2290.4 M630.6,2283.5 H652.6 M630.6,2290.4 H652.6" stroke="#3d5ea8" stroke-width="4.5" fill="none"/>
<path d="M833.7,2030.2 V2037.0 M822.7,2030.2 H844.7 M822.7,2037.0 H844.7" stroke="#3d5ea8" stroke-width="4.5" fill="none"/>
<path d="M1121.9,1918.1 V1943.8 M1110.9,1918.1 H1132.9 M1110.9,1943.8 H1132.9" stroke="#3d5ea8" stroke-width="4.5" fill="none"/>
<path d="M1362.1,1842.9 V1847.9 M1351.1,1842.9 H1373.1 M1351.1,1847.9 H1373.1" stroke="#3d5ea8" stroke-width="4.5" fill="none"/>
<path d="M1458.1,1832.7 V1848.3 M1447.1,1832.7 H1469.1 M1447.1,1848.3 H1469.1" stroke="#3d5ea8" stroke-width="4.5" fill="none"/>
<polyline points="329.4,2683.7 377.4,2583.5 425.5,2543.6 641.6,2306.5 833.7,2075.1 1121.9,1982.3 1362.1,1934.2 1458.1,1934.2" fill="none" stroke="#e2424a" stroke-width="7.5" stroke-linejoin="round"/>
<path d="M329.4,2681.2 V2686.2 M318.4,2681.2 H340.4 M318.4,2686.2 H340.4" stroke="#e2424a" stroke-width="4.5" fill="none"/>
<path d="M377.4,2579.9 V2587.2 M366.4,2579.9 H388.4 M366.4,2587.2 H388.4" stroke="#e2424a" stroke-width="4.5" fill="none"/>
<path d="M425.5,2533.8 V2553.4 M414.5,2533.8 H436.5 M414.5,2553.4 H436.5" stroke="#e2424a" stroke-width="4.5" fill="none"/>
<path d="M641.6,2299.2 V2313.9 M630.6,2299.2 H652.6 M630.6,2313.9 H652.6" stroke="#e2424a" stroke-width="4.5" fill="none"/>
<path d="M833.7,2068.2 V2082.1 M822.7,2068.2 H844.7 M822.7,2082.1 H844.7" stroke="#e2424a" stroke-width="4.5" fill="none"/>
<path d="M1121.9,1976.6 V1988.0 M1110.9,1976.6 H1132.9 M1110.9,1988.0 H1132.9" stroke="#e2424a" stroke-width="4.5" fill="none"/>
<path d="M1362.1,1921.7 V1946.8 M1351.1,1921.7 H1373.1 M1351.1,1946.8 H1373.1" stroke="#e2424a" stroke-width="4.5" fill="none"/>
<path d="M1458.1,1920.0 V1948.4 M1447.1,1920.0 H1469.1 M1447.1,1948.4 H1469.1" stroke="#e2424a" stroke-width="4.5" fill="none"/>
<line x1="289.5" y1="1751.2" x2="434" y2="1751.2" stroke="#4f4545" stroke-width="8.4" stroke-linecap="round"/>
<text x="461" y="1772.2" font-size="65" fill="#141414">PVA-1</text>
<line x1="289.5" y1="1832.0" x2="434" y2="1832.0" stroke="#e2424a" stroke-width="8.4" stroke-linecap="round"/>
<text x="461" y="1853.0" font-size="65" fill="#141414">PVA-2</text>
<line x1="289.5" y1="1912.8" x2="434" y2="1912.8" stroke="#3d5ea8" stroke-width="8.4" stroke-linecap="round"/>
<text x="461" y="1933.8" font-size="65" fill="#141414">PVA-3</text>
<line x1="289.5" y1="1993.6" x2="434" y2="1993.6" stroke="#3f9b5f" stroke-width="8.4" stroke-linecap="round"/>
<text x="461" y="2014.6" font-size="65" fill="#141414">PVA-4</text>
<text x="914" y="2930" font-size="63" text-anchor="middle" fill="#141414">(b) 不同聚合度PVA膜在去离子水中浸泡24h的</text>
<text x="916" y="3010" font-size="63" text-anchor="middle" fill="#141414">溶胀率和形态变化</text>
</svg></body></html>
